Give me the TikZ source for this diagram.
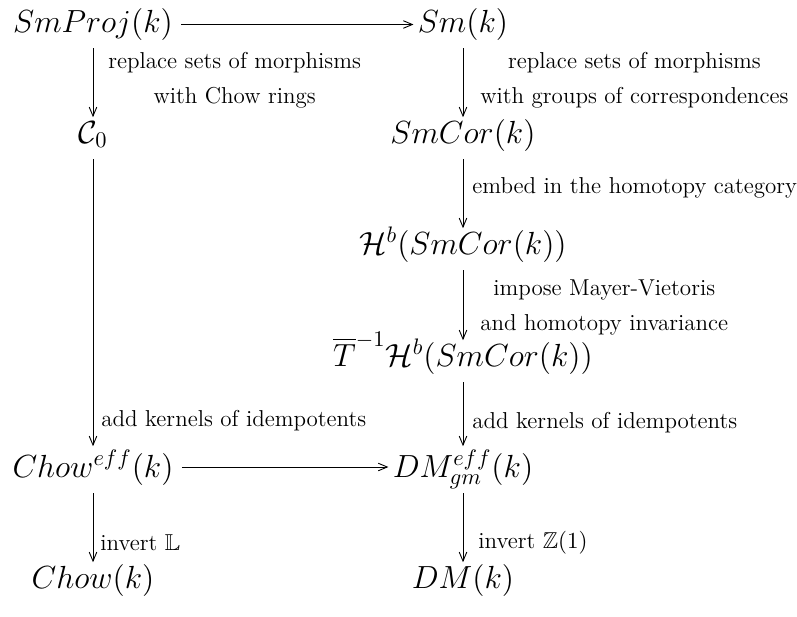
\RequirePackage{fix-cm}
\documentclass[tikz,border=0pt]{standalone}
\usepackage{amsmath,amssymb}
\usetikzlibrary{arrows.meta}
\begin{document}
\begin{tikzpicture}[x=0.5pt,y=-0.5pt,
  obj/.style={font=\fontsize{16}{19}\selectfont, inner sep=0pt, anchor=base, text height=11.5pt, text depth=4pt},
  objsup/.style={obj, text height=14pt},
  lbl/.style={font=\fontsize{11.5}{17.5}\selectfont, align=center, inner sep=0pt, anchor=west},
  tip/.style={-{Straight Barb[length=4.5pt,width=3.8pt]}, line width=0.45pt},
  varr/.style={tip, shorten <=4pt, shorten >=1.2pt},
  harr/.style={tip, shorten <=4pt, shorten >=2pt}]
\useasboundingbox (0,0) rectangle (797,616);
% objects
\node[obj] (smproj) at (93,32) {$SmProj(k)$};
\node[obj] (sm) at (463,32) {$Sm(k)$};
\node[obj] (c0) at (93,143) {$\mathcal{C}_0$};
\node[obj] (smcor) at (463,143) {$SmCor(k)$};
\node[obj] (hb) at (463,254) {$\mathcal{H}^b(SmCor(k))$};
\node[obj] (tb) at (463,366) {$\overline{T}^{-1}\mathcal{H}^b(SmCor(k))$};
\node[objsup] (choweff) at (93,477) {$Chow^{eff}(k)$};
\node[objsup] (dmeff) at (463,477) {$DM^{eff}_{gm}(k)$};
\node[obj] (chow) at (93,588) {$Chow(k)$};
\node[obj] (dm) at (463,588) {$DM(k)$};
% arrows
\draw[harr] (smproj) -- (sm);
\draw[harr] (choweff) -- (dmeff);
\draw[varr] (smproj) -- (c0);
\draw[varr] (sm) -- (smcor);
\draw[varr] (smcor) -- (hb);
\draw[varr] (hb) -- (tb);
\draw[varr] (tb) -- (dmeff);
\draw[varr] (c0) -- (choweff);
\draw[varr] (choweff) -- (chow);
\draw[varr] (dmeff) -- (dm);
% labels
\node[lbl] (l1) at (108,80) {replace sets of morphisms\\with Chow rings};
\node[lbl] (r1) at (480,80) {replace sets of morphisms\\with groups of correspondences};
\node[lbl] (r2) at (472,188) {embed in the homotopy category};
\node[lbl] (r3) at (480,307) {impose Mayer-Vietoris\\and homotopy invariance};
\node[lbl] (r4) at (472,423) {add kernels of idempotents};
\node[lbl] (l4) at (101,421) {add kernels of idempotents};
\node[lbl] (l5) at (100,543) {invert $\mathbb{L}$};
\node[lbl] (r5) at (478,543) {invert $\mathbb{Z}(1)$};
\end{tikzpicture}
\end{document}
